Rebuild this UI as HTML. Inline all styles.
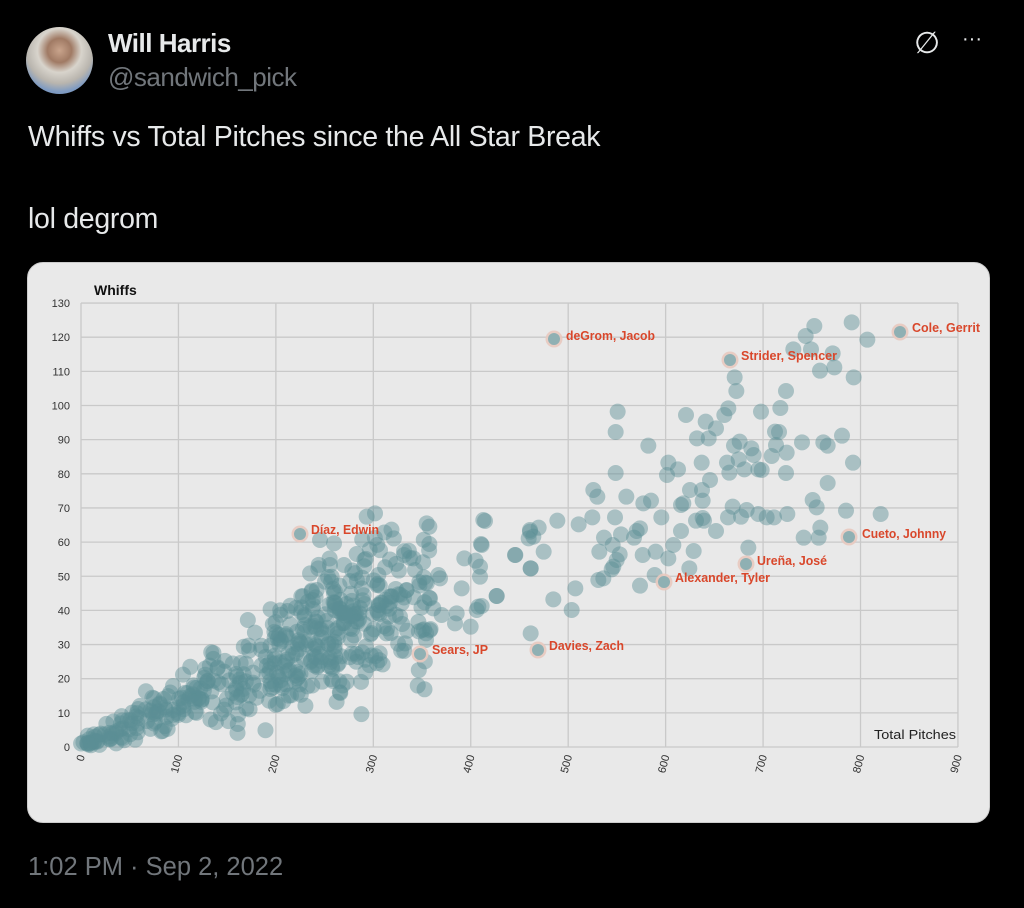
<!DOCTYPE html>
<html><head><meta charset="utf-8"><style>
body{margin:0;width:1024px;height:908px;background:#000;overflow:hidden;font-family:"Liberation Sans",sans-serif;position:relative}
.t{position:absolute;color:#e7e9ea;white-space:nowrap}
</style></head><body>
<div style="position:absolute;left:26px;top:27px;width:67px;height:67px;border-radius:50%;background:radial-gradient(circle at 50% 35%,#c9a48c 0,#a07a64 22%,#d8d4cc 40%,#b9b5ae 60%,#7f9bc2 75%,#6c8bb8 100%)"></div>
<div class="t" style="left:108px;top:28px;font-size:26px;font-weight:bold;letter-spacing:-0.5px">Will Harris</div>
<div class="t" style="left:108px;top:62px;font-size:26px;color:#71767b;letter-spacing:-0.5px">@sandwich_pick</div>
<div class="t" style="left:914px;top:26px;font-size:30px;color:#e7e9ea">∅</div>
<div class="t" style="left:962px;top:28px;font-size:20px;color:#e7e9ea">···</div>
<div class="t" style="left:28px;top:121px;font-size:28.5px;letter-spacing:-0.3px">Whiffs vs Total Pitches since the All Star Break</div>
<div class="t" style="left:28px;top:203px;font-size:28.5px;letter-spacing:-0.3px">lol degrom</div>
<div class="t" style="left:28px;top:853px;font-size:25.5px;color:#71767b">1:02 PM · Sep 2, 2022</div>
<div style="position:absolute;left:27px;top:262px;width:961px;height:559px;border-radius:16px;background:#e9e9e9;border:1px solid #ccc"></div>
<svg id="s" width="1024" height="908" style="position:absolute;left:0;top:0" font-family="Liberation Sans, sans-serif">
<g id="grid" stroke="#c9c9c9" stroke-width="1.3"></g>
<text x="94" y="295" font-size="14" font-weight="bold" fill="#111">Whiffs</text>
<text x="874" y="739" font-size="13" fill="#222" textLength="82" lengthAdjust="spacingAndGlyphs">Total Pitches</text>
<g id="ticks" font-size="11" fill="#333"></g>
<g id="pts" fill="#5b8e95" fill-opacity="0.45"></g>
<g id="hl"></g>
<g font-size="13" font-weight="bold" fill="#d9472b" lengthAdjust="spacingAndGlyphs">
<text x="566" y="340" textLength="89" lengthAdjust="spacingAndGlyphs">deGrom, Jacob</text>
<text x="912" y="332" textLength="68" lengthAdjust="spacingAndGlyphs">Cole, Gerrit</text>
<text x="741" y="360" textLength="96" lengthAdjust="spacingAndGlyphs">Strider, Spencer</text>
<text x="311" y="534" textLength="68" lengthAdjust="spacingAndGlyphs">Díaz, Edwin</text>
<text x="862" y="538" textLength="84" lengthAdjust="spacingAndGlyphs">Cueto, Johnny</text>
<text x="757" y="565" textLength="70" lengthAdjust="spacingAndGlyphs">Ureña, José</text>
<text x="675" y="582" textLength="95" lengthAdjust="spacingAndGlyphs">Alexander, Tyler</text>
<text x="432" y="654" textLength="56" lengthAdjust="spacingAndGlyphs">Sears, JP</text>
<text x="549" y="650" textLength="75" lengthAdjust="spacingAndGlyphs">Davies, Zach</text>
</g>
</svg>
<script>
var ns="http://www.w3.org/2000/svg";
function el(p,t,a){var e=document.createElementNS(ns,t);for(var k in a)e.setAttribute(k,a[k]);p.appendChild(e);return e}
var X0=81,XS=0.9744,Y0=747,YS=3.415;
var g=document.getElementById('grid'),tk=document.getElementById('ticks');
for(var i=0;i<=13;i++){var y=Y0-i*10*YS;el(g,'line',{x1:X0,x2:958,y1:y,y2:y});var t=el(tk,'text',{x:70,y:y+4,'text-anchor':'end'});t.textContent=i*10;}
for(var i=0;i<=9;i++){var x=X0+i*100*XS;el(g,'line',{x1:x,x2:x,y1:303,y2:747});var t=el(tk,'text',{x:0,y:0,'text-anchor':'end',transform:'translate('+(x+4)+',756) rotate(-75)'});t.textContent=i*100;}
var P=document.getElementById('pts');
var seed=7;function r(){seed=(seed*16807)%2147483647;return seed/2147483647}
function n(){return (r()+r()+r()-1.5)*1.4}
for(var i=0;i<480;i++){var u=r();var x=Math.pow(u,0.85)*360;if(r()<0.2)x=190+r()*110;var y=0.125*x+n()*(1.2+0.05*x);if(y<0.5)y=0.5+r();el(P,'circle',{cx:X0+x*XS,cy:Y0-y*YS,r:8});}
function add(ox,oy,arr){for(var i=0;i<arr.length;i+=2)el(P,'circle',{cx:ox+arr[i]/3,cy:oy+arr[i+1]/3,r:8});}
add(480,300,[1003,78,1115,67,977,108,1162,119,940,148,993,148,1058,160,1020,212,1063,202,1121,232,764,232,769,273,918,273,745,325,733,345,843,335,901,324,618,345,677,365,708,385,413,335,407,396,505,437,651,415,686,415,762,437,779,425,814,445,821,465,885,395,897,396,888,435,920,458,875,468,966,427,1030,427,1043,437,1086,407,1119,488,565,488,594,508,561,525,665,488,741,488,776,478,748,518,793,508,835,508,845,510,918,519,407,519,340,570,352,590,439,590,490,610,513,602,630,570,666,570,690,540,668,602,603,615,610,610,1043,549,998,600,1010,622,1098,632,1202,642,15,663,176,683,150,695,146,715,232,662,296,673,337,652,405,652,544,652,648,662,668,654,672,662,708,693,603,693,744,652,758,620,783,650,800,630,835,642,860,652,882,652,922,642,1021,683,971,713,1016,713,5,735,106,765,152,805,191,755,372,713,423,703,462,713,480,685,470,693,398,735,358,755,419,763,410,780,400,800,395,808,355,840,370,835,488,765,527,755,565,775,580,735,641,753,628,805,524,825,480,857,805,743,286,865,220,898,275,930,50,888,5,918,0,800,0,830]);
add(200,490,[680,100,688,110,688,162,850,90,843,162,612,195,640,205,793,205,827,212,945,195,992,235,990,120,1000,140,715,255,720,265,676,278,645,240,785,295,890,318,690,325,700,355,725,375,770,370,765,400,812,410,835,350,830,360,672,418,678,450,615,460,992,430,600,380,605,340,620,300,575,320,535,255,470,192,525,70,500,80,360,150,402,160,432,225,390,225,355,235,375,275,350,300,405,305]);
var H=document.getElementById('hl');
[[554,339],[900,332],[730,360],[300,534],[849,537],[746,564],[664,582],[420,654],[538,650]].forEach(function(p){
el(H,'circle',{cx:p[0],cy:p[1],r:8.5,fill:'#e8c9bf','fill-opacity':0.9});el(H,'circle',{cx:p[0],cy:p[1],r:6,fill:'#8fb0b3'});});
</script>
</body></html>
